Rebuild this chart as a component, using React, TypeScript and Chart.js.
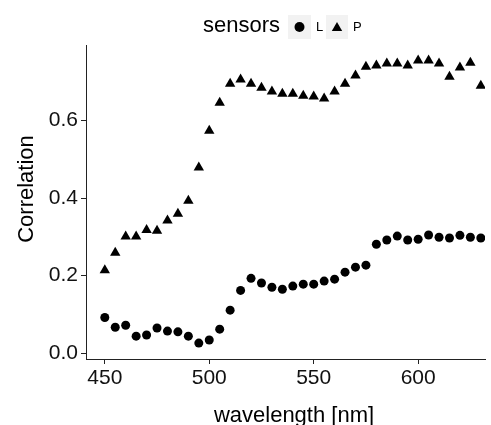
import React, { useEffect, useRef } from 'react';
import { Chart, registerables } from 'chart.js';

Chart.register(...registerables);

const wavelengths = [
  450, 455, 460, 465, 470, 475, 480, 485, 490, 495, 500, 505, 510, 515, 520, 525, 530, 535, 540,
  545, 550, 555, 560, 565, 570, 575, 580, 585, 590, 595, 600, 605, 610, 615, 620, 625, 630,
];

const sensorL = [
  0.092, 0.067, 0.072, 0.044, 0.047, 0.065, 0.057, 0.055, 0.044, 0.026, 0.034, 0.062, 0.111,
  0.162, 0.193, 0.181, 0.17, 0.165, 0.173, 0.178, 0.178, 0.186, 0.191, 0.209, 0.222, 0.227,
  0.281, 0.292, 0.302, 0.292, 0.294, 0.305, 0.299, 0.297, 0.304, 0.299, 0.297,
];

const sensorP = [
  0.214, 0.259, 0.301, 0.301, 0.318, 0.316, 0.342, 0.36, 0.393, 0.479, 0.574, 0.646, 0.695,
  0.706, 0.695, 0.685, 0.675, 0.669, 0.669, 0.664, 0.662, 0.657, 0.675, 0.695, 0.716, 0.739,
  0.742, 0.747, 0.747, 0.742, 0.755, 0.755, 0.747, 0.713, 0.737, 0.749, 0.69,
];

const xTicks = [450, 500, 550, 600];
const yTicks = [0, 0.2, 0.4, 0.6];

const FONT = '"Liberation Sans", Arial, Helvetica, sans-serif';

const overlayPlugin = {
  id: 'overlayTexts',
  afterDraw(chart: any) {
    const ctx: CanvasRenderingContext2D = chart.ctx;
    ctx.save();
    // legend
    ctx.fillStyle = '#000';
    ctx.textAlign = 'left';
    ctx.textBaseline = 'alphabetic';
    ctx.font = `22px ${FONT}`;
    ctx.fillText('sensors', 203, 32);
    ctx.fillStyle = '#f2f2f2';
    ctx.fillRect(288, 15, 23, 24);
    ctx.fillRect(326, 15, 22, 24);
    ctx.fillStyle = '#000';
    ctx.beginPath();
    ctx.arc(299.5, 27, 5, 0, Math.PI * 2);
    ctx.fill();
    const tr = 6;
    const tx = 337;
    const ty = 28;
    ctx.beginPath();
    ctx.moveTo(tx, ty - tr);
    ctx.lineTo(tx + tr * Math.sin(Math.PI / 3), ty + tr / 2);
    ctx.lineTo(tx - tr * Math.sin(Math.PI / 3), ty + tr / 2);
    ctx.closePath();
    ctx.fill();
    ctx.font = `13px ${FONT}`;
    ctx.fillText('L', 316, 31);
    ctx.fillText('P', 353, 31);
    // axis titles
    ctx.font = `22px ${FONT}`;
    ctx.textAlign = 'center';
    ctx.fillText('wavelength [nm]', 294, 422);
    ctx.translate(33, 189);
    ctx.rotate(-Math.PI / 2);
    ctx.fillText('Correlation', 0, 0);
    ctx.restore();
  },
};

export default function App() {
  const canvasRef = useRef<HTMLCanvasElement | null>(null);

  useEffect(() => {
    const canvas = canvasRef.current;
    if (!canvas) return;
    const chart = new Chart(canvas, {
      type: 'scatter',
      data: {
        datasets: [
          {
            label: 'L',
            data: wavelengths.map((w, i) => ({ x: w, y: sensorL[i] })),
            pointStyle: 'circle',
            pointRadius: 4.5,
            backgroundColor: '#000',
            borderColor: '#000',
            borderWidth: 0,
          },
          {
            label: 'P',
            data: wavelengths.map((w, i) => ({ x: w, y: sensorP[i] })),
            pointStyle: 'triangle',
            pointRadius: 6,
            backgroundColor: '#000',
            borderColor: '#000',
            borderWidth: 0,
          },
        ],
      },
      options: {
        responsive: false,
        animation: false,
        devicePixelRatio: 1,
        layout: { padding: { top: 45, right: 0, left: 0, bottom: 0 } },
        plugins: {
          legend: { display: false },
          tooltip: { enabled: false },
        },
        scales: {
          x: {
            type: 'linear',
            min: 441,
            max: 632,
            afterBuildTicks: (s: any) => {
              s.ticks = xTicks.map((v) => ({ value: v }));
            },
            afterFit: (s: any) => {
              s.height = 66;
            },
            border: { display: true, color: '#222', width: 1 },
            grid: { drawOnChartArea: false, drawTicks: true, tickLength: 5, color: '#222' },
            ticks: {
              font: { family: FONT, size: 21 },
              color: '#111',
              padding: 2,
              maxRotation: 0,
              callback: (v: any) => String(v),
            },
          },
          y: {
            type: 'linear',
            min: -0.015,
            max: 0.795,
            afterBuildTicks: (s: any) => {
              s.ticks = yTicks.map((v) => ({ value: v }));
            },
            afterFit: (s: any) => {
              s.width = 86;
            },
            border: { display: true, color: '#222', width: 1 },
            grid: { drawOnChartArea: false, drawTicks: true, tickLength: 5, color: '#222' },
            ticks: {
              font: { family: FONT, size: 21 },
              color: '#111',
              padding: 3,
              callback: (v: any) => Number(v).toFixed(1),
            },
          },
        },
      },
      plugins: [overlayPlugin],
    });
    return () => chart.destroy();
  }, []);

  return (
    <div style={{ position: 'fixed', left: 0, top: 0, width: 491, height: 425, background: '#fff' }}>
      <canvas ref={canvasRef} width={491} height={425} style={{ width: 491, height: 425 }} />
    </div>
  );
}
